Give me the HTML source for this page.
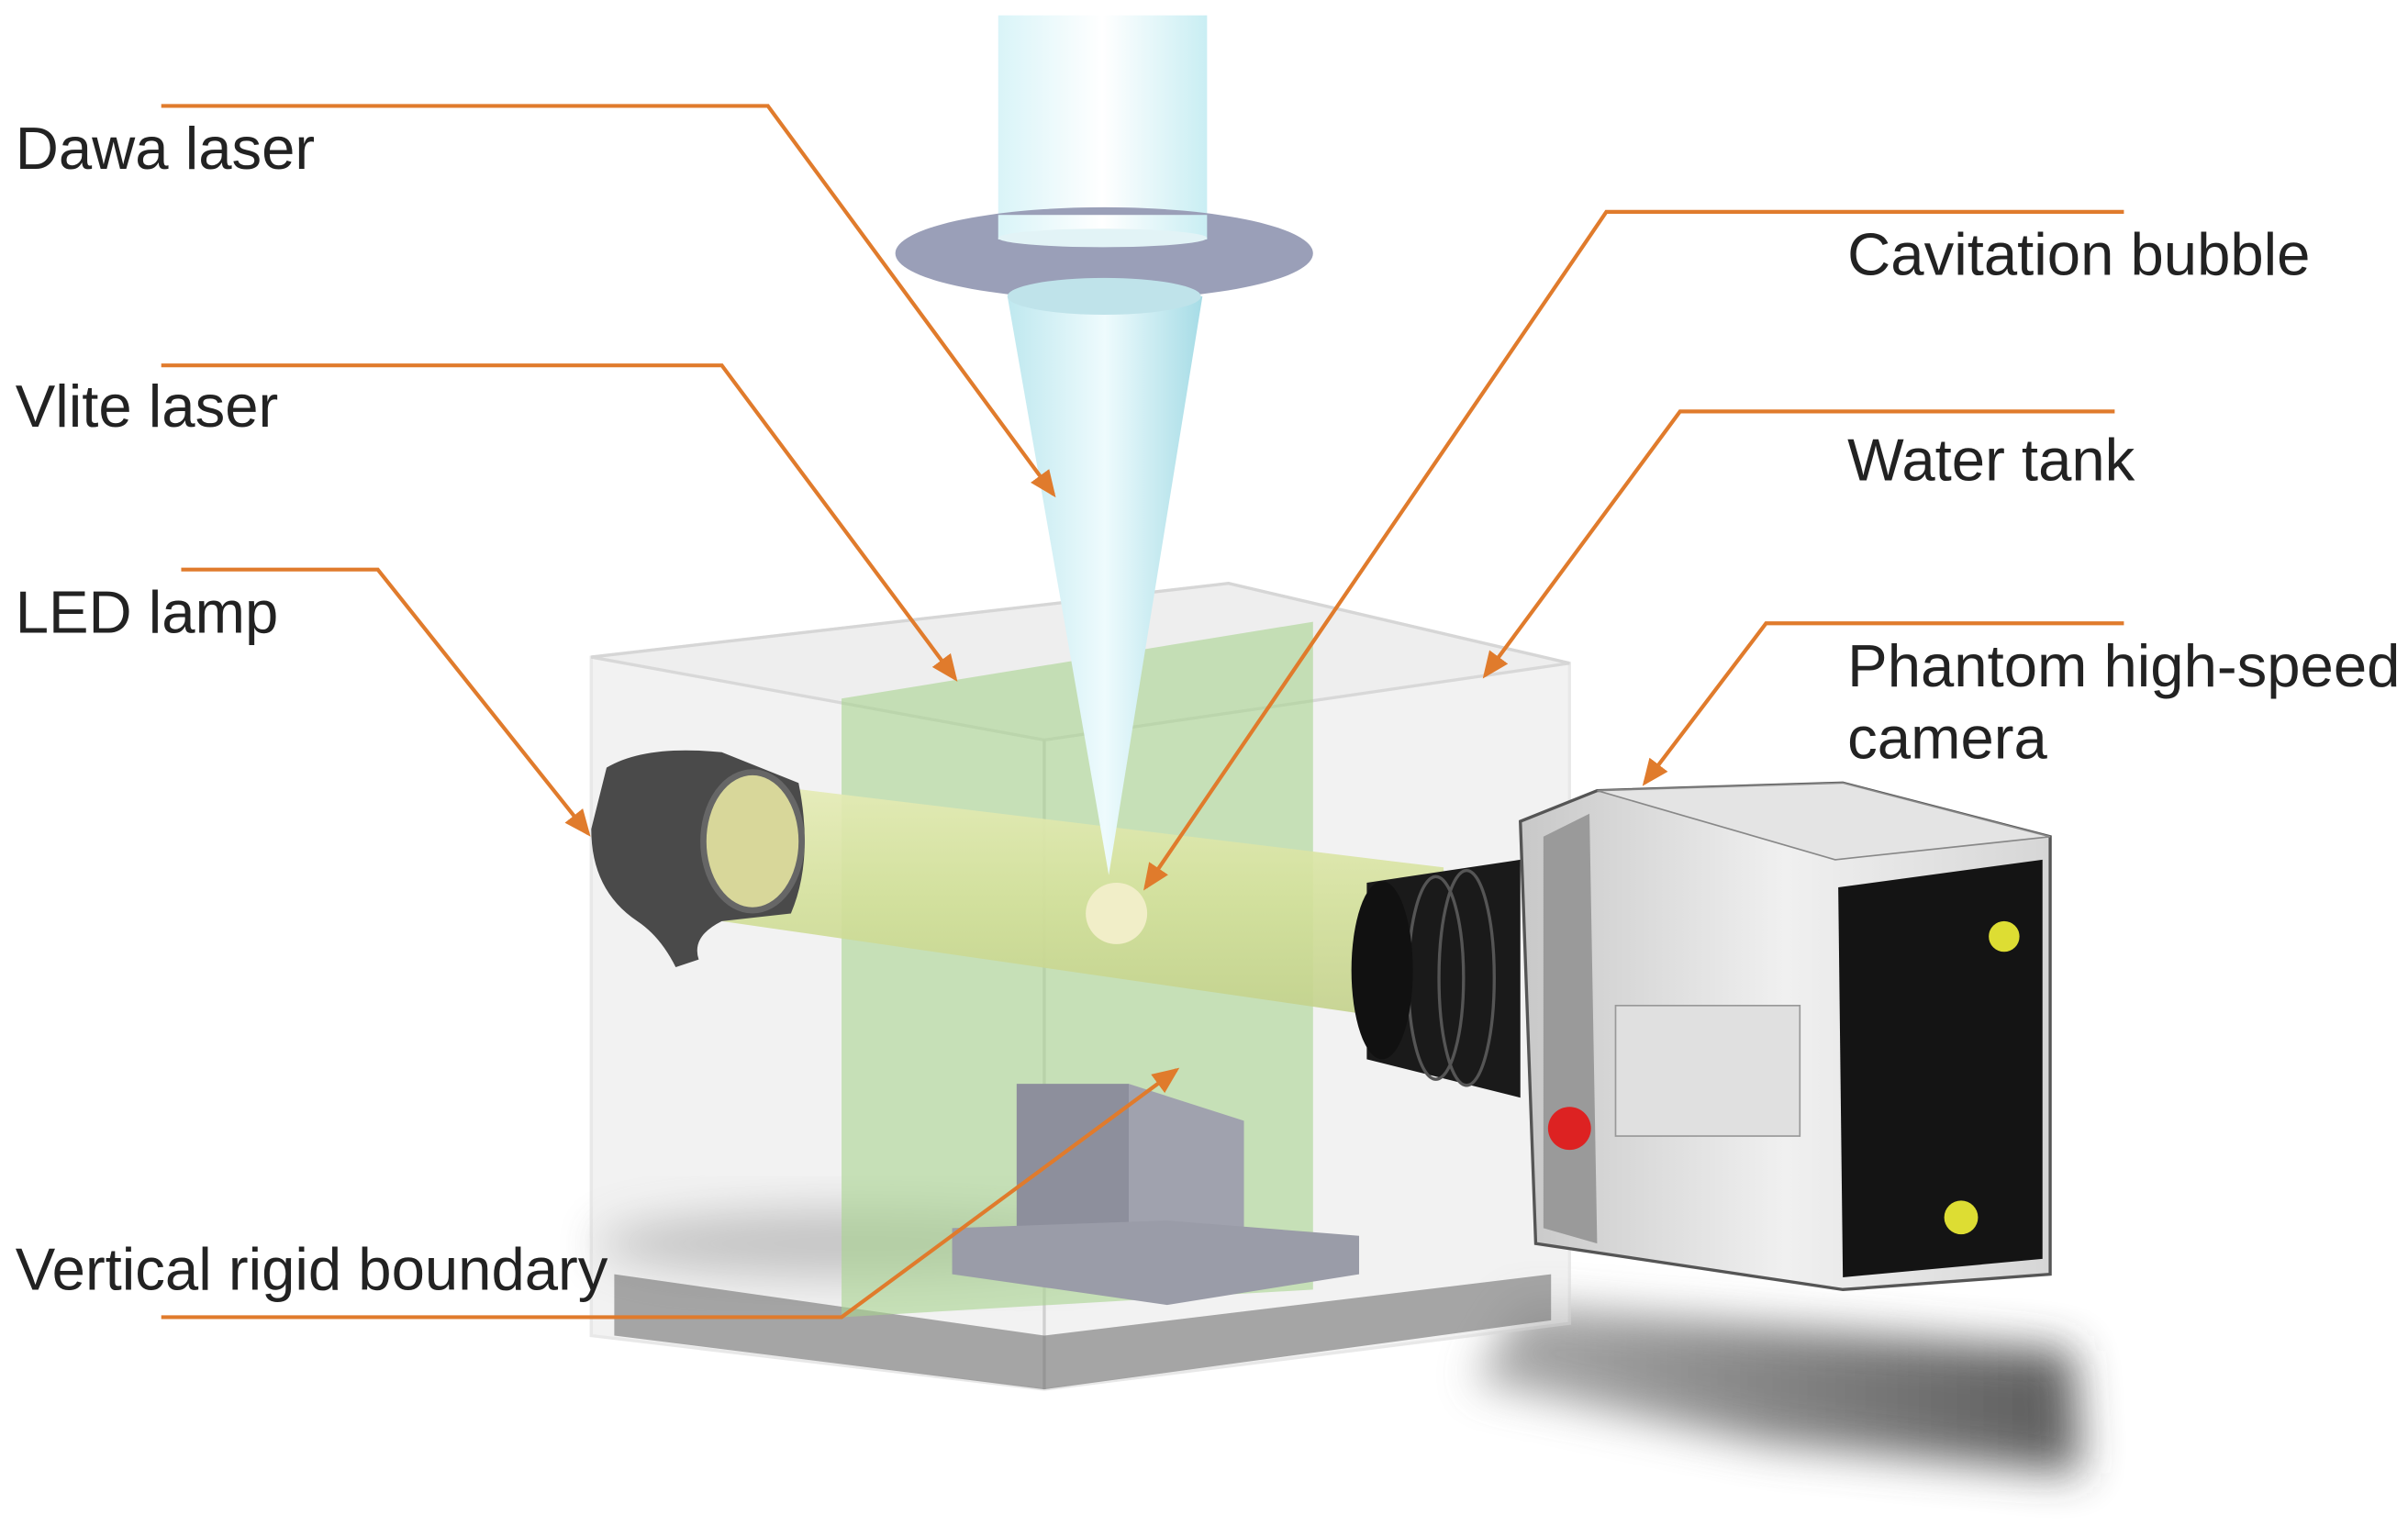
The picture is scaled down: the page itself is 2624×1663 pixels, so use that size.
<!DOCTYPE html>
<html><head><meta charset="utf-8"><style>
html,body{margin:0;padding:0;background:#fff;}
svg{display:block;}
text{font-family:"Liberation Sans",Arial,sans-serif;fill:#222;}
</style></head><body>
<svg width="2624" height="1663" viewBox="0 0 1568 994" preserveAspectRatio="none" xmlns="http://www.w3.org/2000/svg">
<defs>
<linearGradient id="cyl" x1="0" x2="1"><stop offset="0" stop-color="#d9f4f8"/><stop offset="0.5" stop-color="#ffffff"/><stop offset="1" stop-color="#c9eef3"/></linearGradient>
<linearGradient id="cone" x1="0" x2="1"><stop offset="0" stop-color="#bfe8ef"/><stop offset="0.5" stop-color="#eefbfd"/><stop offset="1" stop-color="#a6dce6"/></linearGradient>
<linearGradient id="beam" x1="0" y1="0" x2="0" y2="1"><stop offset="0" stop-color="#e6ecb6"/><stop offset="0.5" stop-color="#d3e09a"/><stop offset="1" stop-color="#c2d08a"/></linearGradient>
<linearGradient id="cam" x1="0" x2="1"><stop offset="0" stop-color="#c8c8c8"/><stop offset="0.5" stop-color="#f0f0f0"/><stop offset="1" stop-color="#d6d6d6"/></linearGradient>
<linearGradient id="sh" x1="0" x2="1"><stop offset="0" stop-color="#999"/><stop offset="1" stop-color="#333"/></linearGradient>
<filter id="blur" x="-20%" y="-50%" width="140%" height="200%"><feGaussianBlur stdDeviation="14"/></filter>
<marker id="ar" markerWidth="8" markerHeight="8" refX="6" refY="4" orient="auto" markerUnits="strokeWidth"><path d="M0,1 L7,4 L0,7 z" fill="#e07b2c"/></marker>
</defs>
<ellipse cx="560" cy="810" rx="170" ry="22" fill="#555" opacity="0.6" filter="url(#blur)"/>
<polygon points="990,850 1350,880 1355,960 1150,940 960,900" fill="url(#sh)" opacity="0.8" filter="url(#blur)"/>
<polygon points="385,428 800,380 1022,432 1022,862 680,905 385,870" fill="#e8e8e8" opacity="0.55" stroke="#d6d6d6" stroke-width="2"/>
<polygon points="385,428 800,380 1022,432 680,482" fill="#eeeeee" opacity="0.8" stroke="#d2d2d2" stroke-width="2"/>
<line x1="680" y1="482" x2="680" y2="905" stroke="#d0d0d0" stroke-width="2"/>
<polygon points="400,830 680,870 1010,830 1010,860 680,905 400,870" fill="#666" opacity="0.55"/>
<polygon points="548,455 855,405 855,840 548,858" fill="#a9d38f" opacity="0.6"/>
<polygon points="662,706 735,706 735,800 662,800" fill="#8d8f9c"/>
<polygon points="735,706 810,730 810,815 735,800" fill="#a0a2ae"/>
<polygon points="620,800 760,795 885,805 885,830 760,850 620,830" fill="#9a9ca8"/>
<polygon points="470,508 940,565 940,668 470,600" fill="url(#beam)" opacity="0.9"/>
<path d="M395,500 Q420,485 470,490 L520,510 Q530,560 515,595 L470,600 Q450,610 455,625 L440,630 Q430,610 415,600 Q385,580 385,540 Z" fill="#4a4a4a"/>
<ellipse cx="490" cy="548" rx="32" ry="45" fill="#d8d79a" stroke="#666" stroke-width="4"/>
<rect x="650" y="10" width="136" height="145" fill="url(#cyl)"/>
<ellipse cx="719" cy="165" rx="136" ry="30" fill="#9a9fb8"/>
<polygon points="656,193 783,193 722,570" fill="url(#cone)"/>
<ellipse cx="719" cy="193" rx="63" ry="12" fill="#bfe3ea"/>
<rect x="650" y="140" width="136" height="16" fill="url(#cyl)"/>
<ellipse cx="718" cy="155" rx="68" ry="6" fill="#e2f3f6"/>
<circle cx="727" cy="595" r="20" fill="#f1eec8"/>
<polygon points="890,575 990,560 990,715 890,690" fill="#1a1a1a"/>
<g stroke="#555" stroke-width="2" fill="none"><ellipse cx="935" cy="637" rx="18" ry="66"/><ellipse cx="955" cy="637" rx="18" ry="70"/></g>
<ellipse cx="900" cy="632" rx="20" ry="58" fill="#111"/>
<polygon points="990,535 1040,515 1200,510 1335,545 1335,830 1200,840 1000,810" fill="url(#cam)" stroke="#555" stroke-width="2"/>
<polygon points="1040,515 1200,510 1335,545 1195,560" fill="#e4e4e4" stroke="#888"/>
<polygon points="1197,578 1330,560 1330,820 1200,832" fill="#141414"/>
<polygon points="1005,545 1035,530 1040,810 1005,800" fill="#9a9a9a"/>
<circle cx="1022" cy="735" r="14" fill="#d22"/>
<rect x="1052" y="655" width="120" height="85" fill="#e0e0e0" stroke="#999"/>
<circle cx="1305" cy="610" r="10" fill="#dd3"/><circle cx="1277" cy="793" r="11" fill="#dd3"/>
<g fill="none" stroke="#e07b2c" stroke-width="2.5" marker-end="url(#ar)">
<polyline points="105,69 500,69 686,322"/>
<polyline points="105,238 470,238 622,442"/>
<polyline points="118,371 246,371 383,543"/>
<polyline points="105,858 548,858 766,697"/>
<polyline points="1383,138 1046,138 746,578"/>
<polyline points="1377,268 1094,268 967,440"/>
<polyline points="1383,406 1150,406 1071,510"/>
</g>
<g font-size="39">
<text x="10" y="110">Dawa laser</text>
<text x="10" y="278">Vlite laser</text>
<text x="10" y="412">LED lamp</text>
<text x="10" y="840">Vertical rigid boundary</text>
<text x="1203" y="179">Cavitation bubble</text>
<text x="1203" y="313">Water tank</text>
<text x="1203" y="447">Phantom high-speed</text>
<text x="1203" y="494">camera</text>
</g>
</svg>
</body></html>
